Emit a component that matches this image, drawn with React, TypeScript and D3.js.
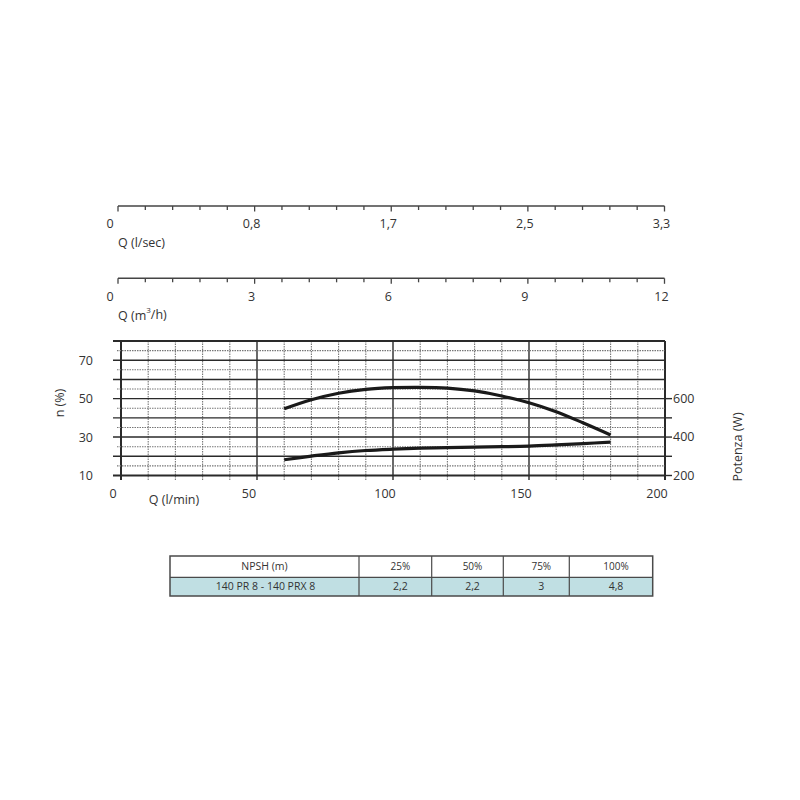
import React from "react";
import * as d3 from "d3";

// ---- data ----
const flowLmin = [60, 70, 80, 90, 100, 110, 120, 130, 140, 150, 160, 170, 180];
const efficiencyPct = [44.7, 49.4, 52.8, 54.8, 55.7, 55.9, 55.5, 54.0, 51.4, 47.9, 43.2, 37.3, 31.1];
const powerW = [282, 301, 318, 330, 337, 342, 345, 348, 350, 353, 359, 366, 374];

const majorFlowTicks = [0, 50, 100, 150, 200];
const lsecLabels = ["0", "0,8", "1,7", "2,5", "3,3"];
const m3hLabels = ["0", "3", "6", "9", "12"];
const lminLabels = ["0", "50", "100", "150", "200"];
const effTickValues = [10, 30, 50, 70];
const powTickValues = [200, 400, 600];

const npshHeader = "NPSH (m)";
const npshPercents = ["25%", "50%", "75%", "100%"];
const modelName = "140 PR 8 - 140 PRX 8";
const npshValues = ["2,2", "2,2", "3", "4,8"];

const FONT = "'Open Sans', 'Noto Sans', sans-serif";
const TXT = "#333";

export default function App() {
  const x = d3.scaleLinear().domain([0, 200]).range([121, 665]);
  const xTop = d3.scaleLinear().domain([0, 200]).range([118, 664.5]);
  const yEff = d3.scaleLinear().domain([10, 80]).range([475.5, 341]);
  const yPow = d3.scaleLinear().domain([200, 900]).range([475.5, 341]);

  const effLine = d3
    .line<number>()
    .x((_, i) => x(flowLmin[i]))
    .y((d) => yEff(d))
    .curve(d3.curveCatmullRom.alpha(0.5));
  const powLine = d3
    .line<number>()
    .x((_, i) => x(flowLmin[i]))
    .y((d) => yPow(d))
    .curve(d3.curveCatmullRom.alpha(0.5));

  const minorFlow = d3.range(0, 201, 10);
  const hLines = d3.range(10, 81, 5);
  const powTicks = d3.range(200, 601, 100);

  const topAxis = (y: number, labels: string[], title: React.ReactNode) => (
    <g>
      <line x1={xTop(0)} x2={xTop(200)} y1={y} y2={y} stroke="#444" strokeWidth={1.5} />
      {minorFlow.map((q) => (
        <line
          key={q}
          x1={xTop(q)}
          x2={xTop(q)}
          y1={y}
          y2={y + (q % 50 === 0 ? 5.5 : 4)}
          stroke="#444"
          strokeWidth={1.3}
        />
      ))}
      {majorFlowTicks.map((q, i) => (
        <text
          key={q}
          x={xTop(q) + (q === 0 ? -8 : -3)}
          y={y + 19}
          fontSize={12.5}
          textAnchor="middle"
          dominantBaseline="middle"
          fill={TXT}
          fontFamily={FONT}
        >
          {labels[i]}
        </text>
      ))}
      <text x={118} y={y + 38} fontSize={12.5} dominantBaseline="middle" fill={TXT} fontFamily={FONT}>
        {title}
      </text>
    </g>
  );

  const tableLeft = 170;
  const tableRight = 652.7;
  const colEdges = [tableLeft, 359, 431.7, 503.3, 569.3, tableRight];
  const tTop = 556;
  const tMid = 577.3;
  const tBot = 596;

  return (
    <svg
      width={800}
      height={800}
      style={{ position: "absolute", left: 0, top: 0, background: "#fff" }}
    >
      <rect x={0} y={0} width={800} height={800} fill="#fff" />
      {topAxis(206, lsecLabels, "Q (l/sec)")}
      {topAxis(278.3, m3hLabels, (
        <>
          Q (m<tspan fontSize={8} dy={-5}>3</tspan>
          <tspan dy={5}>/h)</tspan>
        </>
      ))}

      {/* vertical grid */}
      {minorFlow.map((q) =>
        q % 50 === 0 ? (
          <line key={q} x1={x(q)} x2={x(q)} y1={341} y2={480} stroke="#2a2a2a" strokeWidth={q === 0 || q === 200 ? 2 : 1.4} />
        ) : (
          <line key={q} x1={x(q)} x2={x(q)} y1={341} y2={480} stroke="#777" strokeWidth={1.1} strokeDasharray="1.5 1" />
        )
      )}
      {/* horizontal grid */}
      {hLines.map((v) =>
        v % 10 === 0 ? (
          <line
            key={v}
            x1={113}
            x2={x(200)}
            y1={yEff(v)}
            y2={yEff(v)}
            stroke="#2a2a2a"
            strokeWidth={v === 10 || v === 80 ? 2 : 1.4}
          />
        ) : (
          <line key={v} x1={117} x2={x(200)} y1={yEff(v)} y2={yEff(v)} stroke="#777" strokeWidth={1.1} strokeDasharray="1.5 1" />
        )
      )}
      {powTicks.map((p) => (
        <line key={p} x1={x(200)} x2={672} y1={yPow(p)} y2={yPow(p)} stroke="#2a2a2a" strokeWidth={1.4} />
      ))}

      {/* curves */}
      <path d={effLine(efficiencyPct) || ""} fill="none" stroke="#1a1a1a" strokeWidth={3.2} strokeLinecap="butt" />
      <path d={powLine(powerW) || ""} fill="none" stroke="#1a1a1a" strokeWidth={3.2} strokeLinecap="butt" />

      {/* left labels */}
      {effTickValues.map((v) => (
        <text key={v} x={93} y={yEff(v) + 1.5} fontSize={12.5} textAnchor="end" dominantBaseline="middle" fill={TXT} fontFamily={FONT}>
          {v}
        </text>
      ))}
      <text
        transform="translate(61,403) rotate(-90)"
        fontSize={12.5}
        textAnchor="middle"
        dominantBaseline="middle"
        fill={TXT}
        fontFamily={FONT}
      >
        n (%)
      </text>
      {/* right labels */}
      {powTickValues.map((p) => (
        <text key={p} x={673} y={yPow(p) + 1} fontSize={12.5} dominantBaseline="middle" fill={TXT} fontFamily={FONT}>
          {p}
        </text>
      ))}
      <text
        transform="translate(739,447) rotate(-90)"
        fontSize={12.5}
        textAnchor="middle"
        dominantBaseline="middle"
        fill={TXT}
        fontFamily={FONT}
      >
        Potenza (W)
      </text>
      {/* bottom labels */}
      {majorFlowTicks.map((q, i) => (
        <text key={q} x={x(q) - 8} y={495} fontSize={12.5} textAnchor="middle" dominantBaseline="middle" fill={TXT} fontFamily={FONT}>
          {lminLabels[i]}
        </text>
      ))}
      <text x={174} y={500.5} fontSize={12.5} textAnchor="middle" dominantBaseline="middle" fill={TXT} fontFamily={FONT}>
        Q (l/min)
      </text>

      {/* NPSH table */}
      <rect x={tableLeft} y={tMid} width={tableRight - tableLeft} height={tBot - tMid} fill="#c0dfe3" />
      <rect x={tableLeft} y={tTop} width={tableRight - tableLeft} height={tBot - tTop} fill="none" stroke="#4a4a4a" strokeWidth={1.5} />
      <line x1={tableLeft} x2={tableRight} y1={tMid} y2={tMid} stroke="#4a4a4a" strokeWidth={1.2} />
      {colEdges.slice(1, -1).map((cx) => (
        <line key={cx} x1={cx} x2={cx} y1={tTop} y2={tBot} stroke="#4a4a4a" strokeWidth={1.2} />
      ))}
      <text x={(colEdges[0] + colEdges[1]) / 2} y={567.5} fontSize={10.5} textAnchor="middle" dominantBaseline="middle" fill={TXT} fontFamily={FONT}>
        {npshHeader}
      </text>
      <text x={(colEdges[0] + colEdges[1]) / 2 + 1} y={587.3} fontSize={10.5} textAnchor="middle" dominantBaseline="middle" fill={TXT} fontFamily={FONT}>
        {modelName}
      </text>
      {npshPercents.map((p, i) => (
        <text
          key={p}
          x={(colEdges[i + 1] + colEdges[i + 2]) / 2 + 5}
          y={567.5}
          fontSize={10}
          textAnchor="middle"
          dominantBaseline="middle"
          fill={TXT}
          fontFamily={FONT}
        >
          {p}
        </text>
      ))}
      {npshValues.map((v, i) => (
        <text
          key={i}
          x={(colEdges[i + 1] + colEdges[i + 2]) / 2 + 5}
          y={587.3}
          fontSize={10.5}
          textAnchor="middle"
          dominantBaseline="middle"
          fill={TXT}
          fontFamily={FONT}
        >
          {v}
        </text>
      ))}
    </svg>
  );
}
